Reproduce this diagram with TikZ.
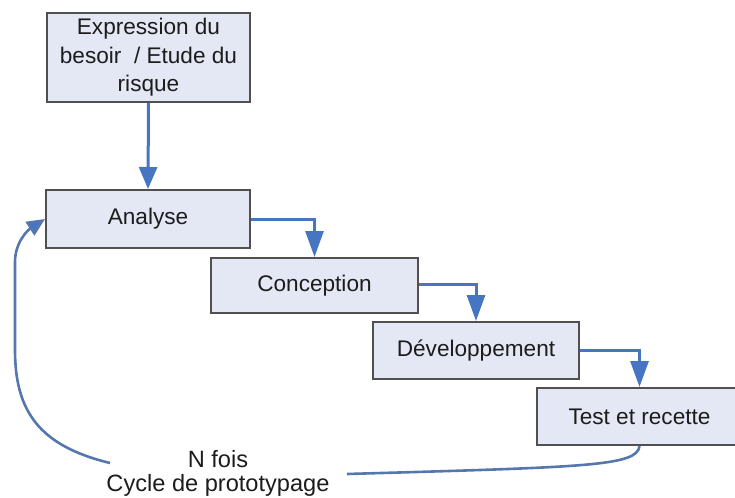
\documentclass[tikz,border=0pt]{standalone}
\usepackage{fontspec}
\setmainfont{Liberation Sans}
\usetikzlibrary{arrows.meta}
\definecolor{boxfill}{HTML}{E3E8F4}
\definecolor{boxline}{HTML}{505050}
\definecolor{flow}{HTML}{4676C2}
\definecolor{loop}{HTML}{5577AE}
\definecolor{ink}{HTML}{1C1C1C}
\begin{document}
\begin{tikzpicture}[x=0.5pt,y=-0.5pt,
  phase/.style={draw=boxline, line width=1pt, fill=boxfill, text=ink,
    inner sep=0pt, font=\fontsize{11.3pt}{14.2pt}\selectfont, align=center},
  flowline/.style={draw=flow, line width=1.5pt,
    -{Triangle[width=9pt,length=13pt]}},
  loopline/.style={draw=loop, line width=1.3pt},
]
\useasboundingbox (0,0) rectangle (735,498);
\clip (0,0) rectangle (735,498);

% phases of the cycle
\node[phase, minimum width=101.5pt, minimum height=44.5pt] (need) at (148.5,57.5)
  {Expression du\\besoir \ / Etude du\\risque};
\node[phase, minimum width=102pt, minimum height=29pt] (ana) at (148,219) {Analyse};
\node[phase, minimum width=103.5pt, minimum height=27.5pt] (con) at (314.5,285.5) {Conception};
\node[phase, minimum width=103pt, minimum height=28.5pt] (dev) at (476,350.5) {Développement};
\node[phase, minimum width=102.5pt, minimum height=28.5pt] (tst) at (639.5,416.5) {Test et recette};

% loop label
\node[text=ink, align=center, font=\fontsize{11.8pt}{12pt}\selectfont] (lbl) at (218,473)
  {N fois\\Cycle de prototypage};

% cascade
\draw[flowline, -{Triangle[width=9pt,length=11pt]}] (need.south) -- (ana.north);
\draw[flowline] (ana.east |- 0,219) -| (con.north);
\draw[flowline] (con.east |- 0,284) -| (dev.north);
\draw[flowline] (dev.east |- 0,350) -| (tst.north);

% back loop
\coordinate (lr) at (347,474);
\coordinate (ll) at (110,463);
\draw[loopline] (tst.south) .. controls (637,466) and (590,467) .. (lr);
\draw[loopline, -{Triangle[width=8pt,length=9pt,fill=flow]}]
  (ll) .. controls (40,446) and (15,412) .. (15,350)
  -- (15,262) .. controls (15,242) and (28,230) .. (ana.west);
\end{tikzpicture}
\end{document}
